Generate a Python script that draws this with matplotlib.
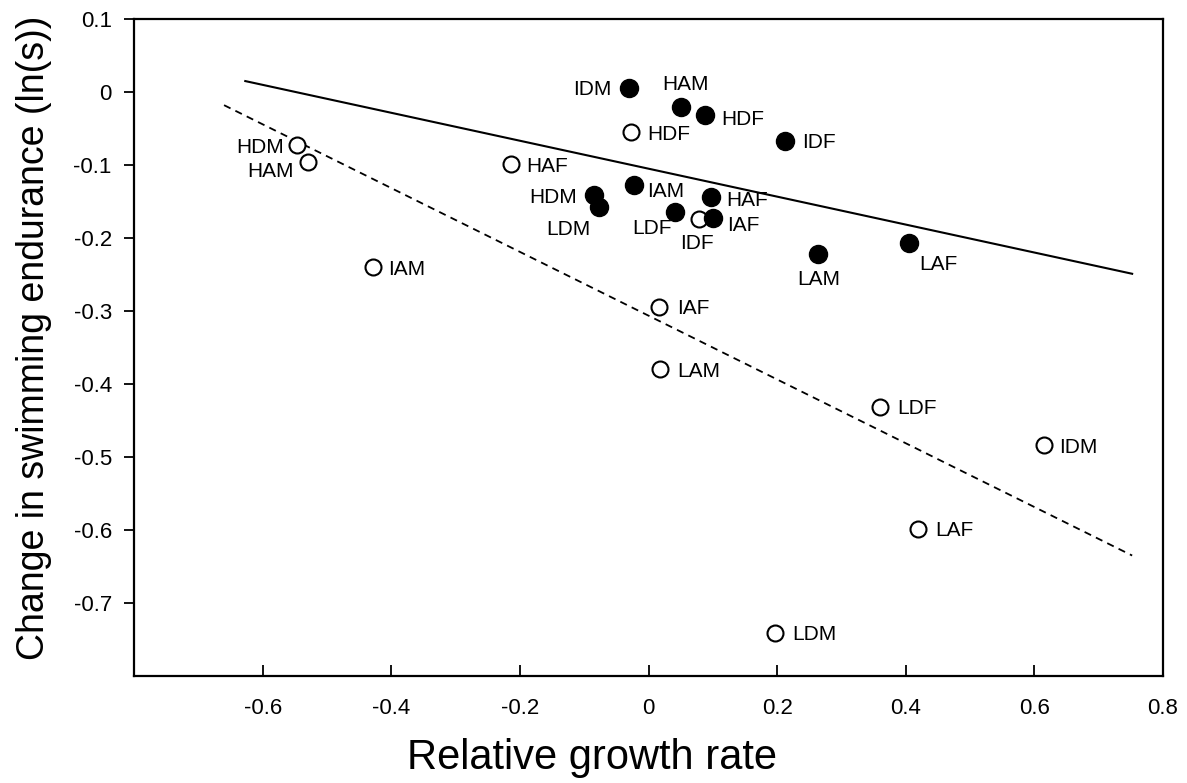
import matplotlib
matplotlib.use('Agg')
import matplotlib.pyplot as plt
import numpy as np

plt.rcParams['font.family'] = ['Liberation Sans', 'DejaVu Sans']

# filled circles (first measurement)
filled_labels = ['IDM', 'HAM', 'HDF', 'IDF', 'HDM', 'LDM', 'IAM', 'HAF', 'LDF', 'IAF', 'LAM', 'LAF']
filled_x = [-0.031, 0.050, 0.088, 0.212, -0.085, -0.077, -0.022, 0.097, 0.041, 0.100, 0.263, 0.405]
filled_y = [0.006, -0.020, -0.032, -0.067, -0.141, -0.157, -0.128, -0.144, -0.164, -0.173, -0.222, -0.207]

# open circles (second measurement)
open_labels = ['HDF', 'HAF', 'HDM', 'HAM', 'IAM', 'IDF', 'IAF', 'LAM', 'LDF', 'IDM', 'LAF', 'LDM']
open_x = [-0.027, -0.214, -0.547, -0.530, -0.429, 0.078, 0.016, 0.018, 0.360, 0.615, 0.419, 0.197]
open_y = [-0.055, -0.099, -0.072, -0.096, -0.240, -0.174, -0.294, -0.380, -0.431, -0.484, -0.598, -0.741]

# fitted lines (end points)
solid_x = [-0.627, 0.752]
solid_y = [0.015, -0.249]
dashed_x = [-0.660, 0.752]
dashed_y = [-0.018, -0.635]

# label offsets in pixels (dx, dy, ha)
filled_off = [(-17, 0, 'right'), (5, 24, 'center'), (16, -2, 'left'), (17, 0, 'left'),
              (-17, -1, 'right'), (-8, -21, 'right'), (13, -4, 'left'), (15, -1, 'left'),
              (-3, -15, 'right'), (14, -5, 'left'), (1, -23, 'center'), (10, -19, 'left')]
open_off = [(16, 0, 'left'), (15, 0, 'left'), (-13, -1, 'right'), (-14, -7, 'right'),
            (16, 0, 'left'), (-2, -22, 'center'), (18, 0, 'left'), (17, 0, 'left'),
            (17, 0, 'left'), (15, 0, 'left'), (17, 0, 'left'), (17, 0, 'left')]

fig = plt.figure(figsize=(11.87, 7.83), dpi=100)
ax = fig.add_axes([0.1129, 0.1367, 0.8669, 0.839])

ax.plot(solid_x, solid_y, color='black', lw=1.5, zorder=1)
ax.plot(dashed_x, dashed_y, color='black', lw=1.3, ls=(0, (4, 3)), zorder=1)

ax.plot(filled_x, filled_y, 'o', ms=13, mfc='black', mec='black', zorder=3)
ax.plot(open_x, open_y, 'o', ms=11.5, mfc='white', mec='black', mew=1.5, zorder=2)

for lab, x, y, (dx, dy, ha) in zip(filled_labels, filled_x, filled_y, filled_off):
    ax.annotate(lab, (x, y), xytext=(dx, dy), textcoords='offset pixels',
                ha=ha, va='center_baseline', fontsize=15)
for lab, x, y, (dx, dy, ha) in zip(open_labels, open_x, open_y, open_off):
    ax.annotate(lab, (x, y), xytext=(dx, dy), textcoords='offset pixels',
                ha=ha, va='center_baseline', fontsize=15)

ax.set_xlim(-0.8, 0.8)
ax.set_ylim(-0.8, 0.1)
ax.set_xticks([-0.6, -0.4, -0.2, 0, 0.2, 0.4, 0.6, 0.8])
ax.set_xticklabels(['-0.6', '-0.4', '-0.2', '0', '0.2', '0.4', '0.6', '0.8'])
ax.set_yticks([-0.7, -0.6, -0.5, -0.4, -0.3, -0.2, -0.1, 0, 0.1])
ax.set_yticklabels(['-0.7', '-0.6', '-0.5', '-0.4', '-0.3', '-0.2', '-0.1', '0', '0.1'])

ax.tick_params(axis='x', direction='in', length=8, width=1.3, pad=16, labelsize=16)
ax.tick_params(axis='y', direction='out', length=7, width=1.3, pad=9, labelsize=16)
for s in ax.spines.values():
    s.set_linewidth(1.6)

ax.set_xlabel('Relative growth rate', fontsize=30)
ax.xaxis.set_label_coords(0.445, -0.095)
ax.set_ylabel('Change in swimming endurance (ln(s))', fontsize=27)
ax.yaxis.set_label_coords(-0.08, 0.515)

fig.savefig('out.png', dpi=100)
